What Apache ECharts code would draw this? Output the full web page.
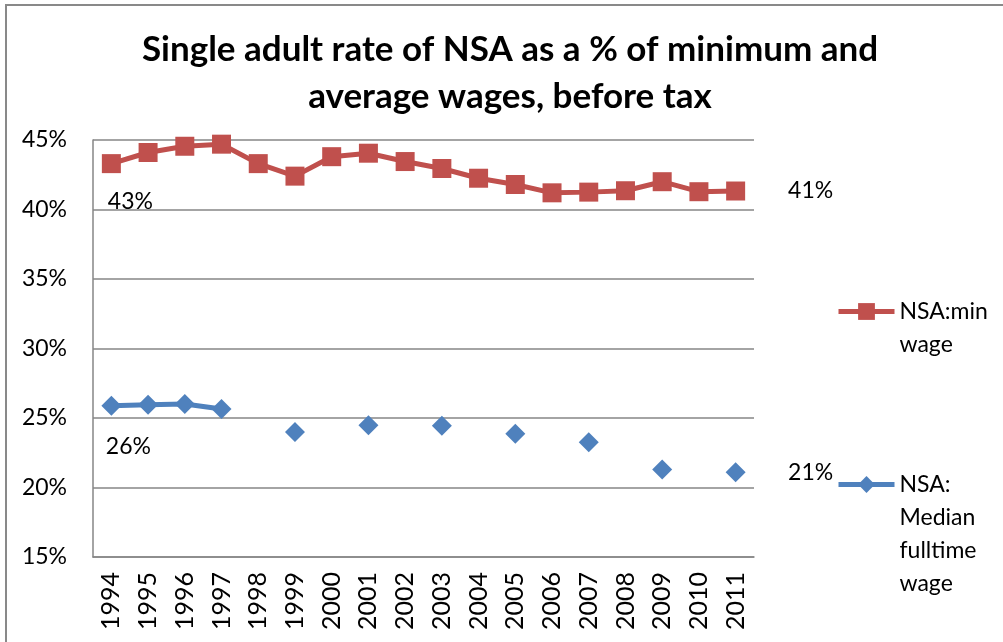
<!DOCTYPE html>
<html>
<head>
<meta charset="utf-8">
<script src="https://cdn.jsdelivr.net/npm/echarts@6/dist/echarts.min.js"></script>
<style>
html,body{margin:0;padding:0;background:#fff;}
#chart{width:1003px;height:642px;}
</style>
</head>
<body>
<div id="chart"></div>
<script>
const years = ['1994','1995','1996','1997','1998','1999','2000','2001','2002','2003','2004','2005','2006','2007','2008','2009','2010','2011'];
const minWage = [43.3, 44.1, 44.55, 44.7, 43.3, 42.4, 43.8, 44.05, 43.45, 42.95, 42.25, 41.8, 41.2, 41.25, 41.35, 42.0, 41.28, 41.33];
const medianWage = [25.88, 25.95, 26.0, 25.65, null, 24.0, null, 24.47, null, 24.45, null, 23.87, null, 23.25, null, 21.3, null, 21.1];
const yTicks = [15, 20, 25, 30, 35, 40, 45];
const seriesNames = ['NSA:min\nwage', 'NSA:\nMedian\nfulltime\nwage'];
const titleText = 'Single adult rate of NSA as a % of minimum and\naverage wages, before tax';

const FONT = 'Lato';
function withEndLabels(values, firstOffset, lastOffset) {
  return values.map((v, i) => {
    if (i === 0) return {value: v, label: {show: true, position: 'inside', offset: firstOffset}};
    if (i === values.length - 1) return {value: v, label: {show: true, position: 'inside', offset: lastOffset}};
    return v;
  });
}
// pad leading blank lines so the legend icon lines up with the first text line
function legendText(name) {
  const n = name.split('\n').length;
  return '\n'.repeat(n - 1) + name;
}
const chart = echarts.init(document.getElementById('chart'));
const labelStyle = {
  color: '#000', fontFamily: FONT, fontSize: 23,
  formatter: p => Math.round(p.value) + '%'
};
const legendCommon = {
  orient: 'vertical', left: 836, padding: 0,
  itemWidth: 56, itemHeight: 21,
  lineStyle: {width: 5},
  formatter: legendText,
  textStyle: {fontFamily: FONT, fontSize: 23, color: '#000', lineHeight: 33}
};
chart.setOption({
  animation: false,
  backgroundColor: '#fff',
  title: {
    text: titleText,
    left: 510, textAlign: 'center', top: 26,
    padding: 0,
    textStyle: {fontFamily: FONT, fontWeight: 'bold', fontSize: 35, lineHeight: 47, color: '#000'}
  },
  graphic: [{
    type: 'rect', shape: {x: 6, y: 5, width: 1010, height: 650},
    style: {fill: null, stroke: '#898989', lineWidth: 2}, silent: true
  }],
  legend: [
    Object.assign({}, legendCommon, {data: [seriesNames[0]], top: 262}),
    Object.assign({}, legendCommon, {data: [seriesNames[1]], top: 369})
  ],
  grid: {left: 93, right: 249, top: 140, bottom: 85, containLabel: false},
  xAxis: {
    type: 'category', data: years, boundaryGap: true,
    axisLine: {show: true, lineStyle: {color: '#868686', width: 1.5}},
    axisTick: {show: false},
    axisLabel: {rotate: 90, fontFamily: FONT, fontSize: 25, color: '#000', margin: 15, interval: 0}
  },
  yAxis: {
    type: 'value', min: yTicks[0], max: yTicks[yTicks.length - 1], interval: 5,
    axisLine: {show: true, lineStyle: {color: '#868686', width: 1.5}},
    axisTick: {show: false},
    splitLine: {show: true, lineStyle: {color: '#868686', width: 1.5}},
    axisLabel: {formatter: '{value}%', fontFamily: FONT, fontSize: 23, color: '#000', margin: 26}
  },
  series: [{
    name: seriesNames[0], type: 'line',
    data: withEndLabels(minWage, [19, 38], [75, 0]),
    color: '#C0504D',
    lineStyle: {width: 5, color: '#C0504D'},
    symbol: 'rect', symbolSize: 19,
    itemStyle: {color: '#C0504D'},
    label: labelStyle
  }, {
    name: seriesNames[1], type: 'line',
    data: withEndLabels(medianWage, [17, 41], [75, 0]),
    connectNulls: false,
    color: '#4F81BD',
    lineStyle: {width: 5, color: '#4F81BD'},
    symbol: 'diamond', symbolSize: 20,
    itemStyle: {color: '#4F81BD'},
    label: labelStyle
  }]
});
</script>
</body>
</html>
